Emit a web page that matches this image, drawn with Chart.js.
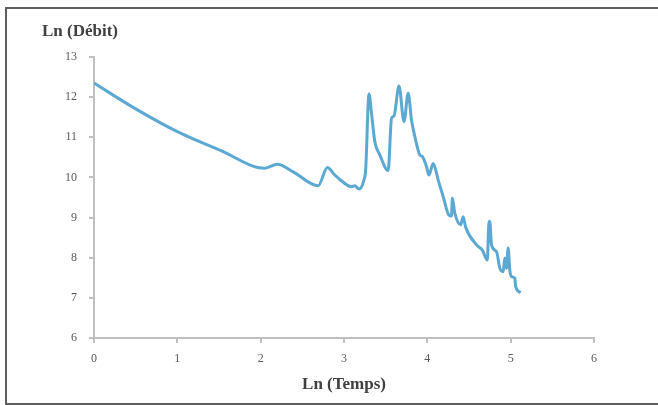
<!DOCTYPE html>
<html>
<head>
<meta charset="utf-8">
<script src="https://cdn.jsdelivr.net/npm/chart.js@4"></script>
<style>
    html, body { margin: 0; padding: 0; background: #fff; }
    #wrap { position: relative; width: 658px; height: 405px; overflow: hidden; }
    #frame {
        position: absolute; left: 5px; top: 7px; width: 700px; height: 394px;
        border: 2px solid #5e5e5e;
    }
    #chart { position: absolute; left: 0; top: 0; }
</style>
</head>
<body>
<div id="wrap">
    <div id="frame"></div>
    <canvas id="chart" width="658" height="405"></canvas>
</div>
<script>
// Ln(Temps) / Ln(Débit)
const lnTemps = [0, 0.49, 1.0, 1.51, 2.05, 2.2, 2.39, 2.69, 2.8, 2.89, 2.95, 3.09, 3.13, 3.18, 3.24, 3.26,
    3.30, 3.33, 3.37, 3.43, 3.53, 3.57, 3.60, 3.66, 3.72, 3.77, 3.81, 3.86, 3.91, 3.94, 3.99, 4.02,
    4.07, 4.13, 4.19, 4.26, 4.29, 4.30, 4.33, 4.40, 4.43, 4.46, 4.59, 4.66, 4.72, 4.74, 4.75, 4.77,
    4.83, 4.87, 4.91, 4.93, 4.95, 4.97, 4.99, 5.01, 5.05, 5.06, 5.12];
const lnDebit = [12.35, 11.72, 11.14, 10.68, 10.23, 10.33, 10.14, 9.79, 10.25, 10.06, 9.95, 9.77, 9.79, 9.71, 9.94, 10.19,
    12.08, 11.6, 10.89, 10.56, 10.17, 11.47, 11.53, 12.28, 11.39, 12.1, 11.43, 10.93, 10.56, 10.52, 10.27, 10.06,
    10.35, 9.94, 9.52, 9.06, 9.04, 9.48, 9.11, 8.82, 9.02, 8.76, 8.32, 8.19, 7.94, 8.90, 8.90, 8.32,
    8.15, 7.74, 7.65, 7.99, 7.74, 8.24, 7.69, 7.53, 7.49, 7.28, 7.13];

const xTitle = 'Ln (Temps)';
const yTitle = 'Ln (Débit)';

const serif = '"Liberation Serif", "DejaVu Serif", serif';
const axisGrey = '#bfbfbf';
const textGrey = '#595959';

// y title sits above the axis, not rotated
const yTitlePlugin = {
    id: 'yTitle',
    afterDraw(chart) {
        const ctx = chart.ctx;
        const area = chart.chartArea;
        ctx.save();
        ctx.font = 'bold 17px ' + serif;
        ctx.fillStyle = '#404040';
        ctx.textBaseline = 'middle';
        ctx.textAlign = 'left';
        ctx.fillText(yTitle, area.left - 52, area.top - 25);
        ctx.restore();
    }
};

new Chart(document.getElementById('chart'), {
    type: 'scatter',
    data: {
        datasets: [{
            data: lnTemps.map((t, i) => ({ x: t, y: lnDebit[i] })),
            showLine: true,
            borderColor: '#5ba9d3',
            borderWidth: 3,
            pointRadius: 0,
            cubicInterpolationMode: 'monotone',
            fill: false
        }]
    },
    options: {
        responsive: false,
        animation: false,
        layout: { padding: { top: 57, right: 64, left: 0, bottom: 0 } },
        plugins: {
            legend: { display: false },
            tooltip: { enabled: false }
        },
        scales: {
            x: {
                type: 'linear',
                min: 0,
                max: 6,
                afterFit: scale => { scale.height = 67; },
                border: { color: axisGrey, width: 2 },
                grid: { drawOnChartArea: false, color: axisGrey, lineWidth: 2, tickLength: 5 },
                ticks: { stepSize: 1, color: textGrey, font: { family: serif, size: 12 }, padding: 9 },
                title: {
                    display: true,
                    text: xTitle,
                    color: '#404040',
                    font: { family: serif, size: 17, weight: 'bold' },
                    padding: { top: 0, bottom: 10 }
                }
            },
            y: {
                min: 6,
                max: 13,
                afterFit: scale => { scale.width = 94; },
                border: { color: axisGrey, width: 2 },
                grid: { drawOnChartArea: false, color: axisGrey, lineWidth: 2, tickLength: 5 },
                ticks: { stepSize: 1, color: textGrey, font: { family: serif, size: 12 }, padding: 12 }
            }
        }
    },
    plugins: [yTitlePlugin]
});
</script>
</body>
</html>
